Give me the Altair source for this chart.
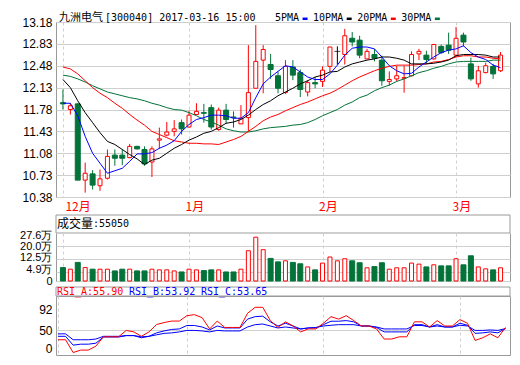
import altair as alt
import pandas as pd

# ---------------- data ----------------
opens = [11.89, 11.78, 11.87, 10.65, 10.75, 10.56, 10.68, 11.05, 11.05, 11.01,
         11.19, 11.14, 10.94, 11.29, 11.37, 11.43, 11.57, 11.50, 11.70, 11.73,
         11.81, 11.46, 11.77, 11.66, 11.55, 11.65, 12.12, 12.57, 12.50, 12.32,
         12.05, 12.46, 12.37, 12.06, 12.21, 12.23, 12.47, 12.71, 12.66, 12.92,
         12.89, 12.59, 12.66, 12.57, 12.23, 12.27, 12.28, 12.32, 12.67, 12.65,
         12.59, 12.79, 12.81, 12.65, 12.97, 12.51, 12.19, 12.37, 12.47, 12.40]
closes = [11.87, 11.84, 10.65, 10.76, 10.57, 10.67, 11.03, 11.00, 11.00, 11.19,
          11.15, 10.91, 11.15, 11.31, 11.42, 11.47, 11.47, 11.69, 11.75, 11.72,
          11.50, 11.77, 11.62, 11.65, 11.64, 12.05, 12.55, 12.74, 12.42, 12.12,
          12.47, 12.33, 12.10, 12.21, 12.19, 12.41, 12.78, 12.71, 12.96, 12.86,
          12.65, 12.71, 12.60, 12.24, 12.26, 12.32, 12.29, 12.66, 12.71, 12.58,
          12.82, 12.69, 12.73, 12.92, 12.86, 12.27, 12.40, 12.48, 12.35, 12.65]
highs = [12.10, 11.88, 11.88, 10.93, 10.81, 10.82, 11.14, 11.14, 11.14, 11.23,
         11.20, 11.19, 11.19, 11.49, 11.58, 11.61, 11.62, 11.76, 11.88, 11.87,
         11.86, 11.81, 11.87, 11.75, 11.85, 12.81, 13.13, 12.81, 12.67, 12.39,
         12.57, 12.57, 12.42, 12.25, 12.30, 12.47, 12.78, 12.79, 13.07, 13.02,
         12.96, 12.75, 12.75, 12.64, 12.39, 12.48, 12.48, 12.71, 12.75, 12.72,
         12.83, 12.82, 13.01, 13.10, 13.01, 12.61, 12.48, 12.53, 12.51, 12.70]
lows = [11.78, 11.70, 10.65, 10.45, 10.50, 10.48, 10.66, 10.88, 10.89, 11.00,
        11.14, 10.88, 10.70, 11.15, 11.35, 11.35, 11.38, 11.49, 11.69, 11.57,
        11.46, 11.44, 11.55, 11.49, 11.55, 11.43, 12.12, 12.04, 12.27, 12.04,
        12.03, 12.25, 11.98, 11.99, 12.12, 12.14, 12.38, 12.50, 12.50, 12.79,
        12.60, 12.59, 12.55, 12.16, 12.16, 12.23, 12.05, 12.31, 12.57, 12.51,
        12.58, 12.67, 12.67, 12.62, 12.79, 12.24, 12.13, 12.36, 12.27, 12.38]

ma5 = [11.88, 11.88, 11.68, 11.35, 11.08, 10.92, 10.76, 10.80, 10.84, 10.95,
       11.07, 11.07, 11.09, 11.16, 11.21, 11.28, 11.43, 11.54, 11.62, 11.65,
       11.69, 11.69, 11.68, 11.64, 11.64, 11.73, 11.97, 12.19, 12.30, 12.39,
       12.48, 12.46, 12.38, 12.30, 12.26, 12.26, 12.35, 12.49, 12.65, 12.76,
       12.78, 12.78, 12.75, 12.62, 12.48, 12.40, 12.35, 12.36, 12.46, 12.54,
       12.62, 12.69, 12.73, 12.75, 12.80, 12.69, 12.62, 12.58, 12.49, 12.45]
ma10 = [12.26, 12.13, 11.92, 11.73, 11.57, 11.41, 11.27, 11.22, 11.14, 11.06,
        10.99, 10.90, 10.97, 11.00, 11.08, 11.16, 11.22, 11.29, 11.34, 11.40,
        11.43, 11.49, 11.56, 11.58, 11.62, 11.69, 11.78, 11.86, 11.92, 12.00,
        12.06, 12.12, 12.19, 12.24, 12.30, 12.33, 12.38, 12.39, 12.46, 12.51,
        12.54, 12.57, 12.59, 12.62, 12.62, 12.60, 12.57, 12.51, 12.51, 12.51,
        12.52, 12.54, 12.57, 12.64, 12.66, 12.66, 12.66, 12.65, 12.62, 12.62]
ma20 = [12.46, 12.43, 12.35, 12.24, 12.13, 12.04, 11.97, 11.88, 11.80, 11.70,
        11.61, 11.53, 11.43, 11.38, 11.33, 11.28, 11.26, 11.24, 11.24, 11.23,
        11.23, 11.22, 11.26, 11.30, 11.35, 11.43, 11.51, 11.60, 11.66, 11.70,
        11.76, 11.81, 11.86, 11.90, 11.95, 12.00, 12.04, 12.10, 12.17, 12.24,
        12.30, 12.35, 12.40, 12.44, 12.47, 12.49, 12.49, 12.49, 12.50, 12.51,
        12.54, 12.55, 12.58, 12.62, 12.64, 12.64, 12.62, 12.62, 12.60, 12.59]
ma30 = [12.33, 12.31, 12.27, 12.22, 12.16, 12.11, 12.06, 12.03, 12.00, 11.97,
        11.95, 11.92, 11.88, 11.85, 11.81, 11.78, 11.77, 11.73, 11.68, 11.62,
        11.58, 11.53, 11.47, 11.44, 11.42, 11.42, 11.44, 11.47, 11.49, 11.50,
        11.51, 11.53, 11.54, 11.57, 11.62, 11.68, 11.73, 11.78, 11.85, 11.90,
        11.97, 12.01, 12.08, 12.13, 12.17, 12.23, 12.27, 12.32, 12.37, 12.40,
        12.44, 12.47, 12.51, 12.54, 12.55, 12.55, 12.55, 12.55, 12.57, 12.57]

volume_wan = [7.7, 6.8, 10.7, 7.7, 6.8, 6.8, 6.8, 5.8, 6.8, 6.8,
              5.8, 5.8, 6.8, 6.4, 6.4, 5.8, 5.2, 6.8, 6.4, 6.0,
              6.4, 6.4, 5.2, 5.2, 6.8, 17.4, 25.2, 18.0, 13.0, 11.0,
              11.6, 10.7, 9.9, 8.1, 6.4, 10.3, 13.8, 11.6, 12.8, 11.6,
              10.5, 7.6, 8.3, 10.5, 6.8, 7.6, 7.6, 10.3, 9.7, 8.1,
              9.3, 8.7, 8.7, 12.8, 9.3, 14.5, 8.1, 7.0, 6.4, 7.6]

rsi_a = [31, 31, 5, 10, 10, 18, 37, 37, 37, 50,
         47, 38, 47, 62, 66, 69, 69, 80, 82, 76,
         53, 69, 56, 56, 56, 85, 97, 97, 70, 56,
         67.5, 59, 47, 53, 53, 64.6, 78, 73, 80, 70,
         59, 59, 53, 32.5, 32.5, 37, 37, 67.5, 67.5, 57,
         70, 59, 59, 72, 64.6, 29.6, 35, 43, 35, 55.9]
rsi_b = [38, 38, 20, 22, 22, 24, 36.6, 36.6, 36.6, 39.5,
         39.5, 35, 38, 45, 49, 52, 53, 60, 60, 57,
         51, 59, 55, 55, 55, 73, 78, 79, 67.5, 59,
         64.6, 59, 53, 55, 55, 61.7, 68.7, 68.7, 70, 67.5,
         59, 59, 56, 47, 47, 47, 47, 61.7, 61.7, 57,
         61.7, 57, 57, 64.6, 60.5, 44, 45, 47, 45, 53.92]
rsi_c = [43, 43, 31, 31, 31, 32.5, 38, 38, 38, 39.5,
         39.5, 37, 38, 41, 44, 45, 47, 50, 50, 49,
         47, 50, 49, 49, 49, 57, 61.7, 63, 59, 55,
         57, 55, 53, 55, 56, 59, 60.5, 61.7, 61.7, 61.7,
         59, 59, 57, 53, 53, 53, 53, 60, 60, 57,
         59, 57, 57, 60.5, 59, 50, 50, 51, 50, 53.65]

month_index = [0, 17, 35, 53]
month_labels = ["12月", "1月", "2月", "3月"]
price_ticks = [10.38, 10.73, 11.08, 11.43, 11.78, 12.13, 12.48, 12.83, 13.18]
volume_ticks = [0, 4.9, 12.5, 20.0, 27.6]
rsi_ticks = [0, 50, 92]

title_name = "九洲电气"
title_rest = "[300040] 2017-03-16 15:00"
ma_names = ["5PMA", "10PMA", "20PMA", "30PMA"]
volume_title = "成交量"
volume_value = ":55050"
rsi_texts = ["RSI_A:55.90", "RSI_B:53.92", "RSI_C:53.65"]

n = len(closes)
for arr in (opens, highs, lows, ma5, ma10, ma20, ma30, volume_wan, rsi_a, rsi_b, rsi_c):
    assert len(arr) == n

df = pd.DataFrame({
    "i": list(range(n)), "open": opens, "close": closes, "high": highs, "low": lows,
    "ma5": ma5, "ma10": ma10, "ma20": ma20, "ma30": ma30, "vol": volume_wan,
    "rsi_a": rsi_a, "rsi_b": rsi_b, "rsi_c": rsi_c,
})
df["dir"] = ["up" if c > o else ("down" if c < o else "flat") for o, c in zip(opens, closes)]
df["vdir"] = ["up" if c >= o else "down" for o, c in zip(opens, closes)]

# ---------------- styles ----------------
RED = "#ff0000"
GREEN = "#03733a"
BLUE = "#0000ff"
BLACK = "#000000"
GRID = "#cfcfcf"
FRAME = "#9a9a9a"
CJK = "Noto Sans CJK SC"
MONO = "DejaVu Sans Mono"
NUMF = "Liberation Sans"
W = 454          # plot width (page content box is 504 px wide)
LEFT = 48        # room for the y labels
TOP = 14         # room above the price panel for the title line
HEAD_Y = -4.5    # title / legend line, relative to the top of the price panel

one = pd.DataFrame({"k": [0]})


def text_at(s, x, y, color=BLACK, font=MONO, size=10):
    return alt.Chart(pd.DataFrame({"t": [s]})).mark_text(
        align="left", baseline="middle", font=font, fontSize=size, color=color
    ).encode(x=alt.value(x), y=alt.value(y), text="t:N")


xscale = alt.Scale(domain=[-0.26, 59.6], nice=False, zero=False)
label_expr = " : ".join(
    f"datum.value == {p} ? '{l}'" for p, l in zip(month_index[:-1], month_labels[:-1])
) + f" : '{month_labels[-1]}'"

x_main_axis = alt.Axis(
    values=month_index, labelExpr=label_expr, grid=True, gridDash=[3, 3], gridColor=GRID,
    ticks=False, tickSize=0, domain=False, labelColor=RED, labelFont=CJK, labelFontSize=12,
    labelAlign="left", labelBaseline="top", labelPadding=4, labelFlush=False,
    labelOffset={"condition": {"test": "datum.value == 0", "value": 2}, "value": -4},
    title=None,
)
x_blank_axis = alt.Axis(
    values=month_index, labels=False, grid=True, gridDash=[3, 3], gridColor=GRID,
    ticks=False, tickSize=0, domain=False, title=None,
)

X_main = alt.X("i:Q", scale=xscale, axis=x_main_axis)
X_blank = alt.X("i:Q", scale=xscale, axis=x_blank_axis)

pscale = alt.Scale(domain=[10.38, 13.18], nice=False, zero=False)
p_axis = alt.Axis(
    values=price_ticks, format=".2f", grid=True, gridColor=GRID, ticks=False, tickSize=0,
    domain=False, labelPadding=4, labelFont=NUMF, labelFontSize=12, labelColor=BLACK,
    labelOverlap=False, title=None,
)


def PY(field):
    return alt.Y(f"{field}:Q", scale=pscale, axis=p_axis)


base = alt.Chart(df)

wicks = base.mark_rule(strokeWidth=1).encode(
    x=X_main, y=PY("high"), y2="low:Q",
    color=alt.Color("dir:N", scale=alt.Scale(domain=["up", "down", "flat"], range=[RED, GREEN, BLACK]), legend=None),
)
body_up = base.transform_filter("datum.dir == 'up'").mark_bar(
    size=4, fill="white", stroke=RED, strokeWidth=1
).encode(x=X_main, y=PY("open"), y2="close:Q")
body_down = base.transform_filter("datum.dir == 'down'").mark_bar(
    size=5, fill=GREEN, stroke=GREEN, strokeWidth=1
).encode(x=X_main, y=PY("open"), y2="close:Q")
body_flat = base.transform_filter("datum.dir == 'flat'").mark_tick(
    orient="horizontal", size=6, thickness=1, color=BLACK
).encode(x=X_main, y=PY("open"))

ma_lines = [
    base.mark_line(strokeWidth=1, color=c).encode(x=X_main, y=PY(f))
    for f, c in [("ma30", GREEN), ("ma20", RED), ("ma10", BLACK), ("ma5", BLUE)]
]

# title + legend (above the plot)
head = [text_at(title_name, 3, HEAD_Y, font=CJK, size=11), text_at(title_rest, 49, HEAD_Y)]
lx = 219
for name, col in zip(ma_names, [BLUE, BLACK, RED, GREEN]):
    w = 6.02 * len(name)
    head.append(text_at(name, lx, HEAD_Y))
    head.append(
        alt.Chart(one).mark_rule(strokeWidth=2.5, color=col).encode(
            x=alt.value(lx + w + 3.5), x2=alt.value(lx + w + 8.5), y=alt.value(HEAD_Y + 1.3)
        )
    )
    lx += w + 14

guard = alt.Chart(one).mark_rule(strokeWidth=1, opacity=0).encode(
    x=alt.value(-LEFT + 0.5), x2=alt.value(-LEFT + 0.5),
    y=alt.value(-TOP + 0.5), y2=alt.value(-TOP + 0.5),
)

main = alt.layer(wicks, body_up, body_down, body_flat, *ma_lines, *head, guard).properties(
    width=W, height=175
)

# volume header
vol_head = alt.layer(
    alt.Chart(one).mark_rect(fill="white", stroke=FRAME, strokeWidth=1).encode(
        x=alt.value(0), x2=alt.value(W), y=alt.value(18), y2=alt.value(36)
    ),
    text_at(volume_title, 1, 26.5, font=CJK, size=12),
    text_at(volume_value, 37, 26.5),
).properties(width=W, height=36, view=alt.ViewBackground(stroke="transparent"))

vscale = alt.Scale(domain=[0, 27.6], nice=False, zero=True)
v_axis = alt.Axis(
    values=volume_ticks,
    labelExpr="datum.value == 0 ? '0' : format(datum.value, '.1f') + '万'",
    grid=True, gridColor=GRID, ticks=False, tickSize=0, domain=False, labelPadding=4,
    labelFont=NUMF, labelFontSize=11, labelColor=BLACK, labelOverlap=False,
    labelOffset={
        "condition": [
            {"test": "datum.value > 27", "value": 2},
            {"test": "datum.value > 12 && datum.value < 13", "value": -2},
            {"test": "datum.value > 4 && datum.value < 5", "value": -3},
        ],
        "value": 0,
    },
    title=None,
)
VY = alt.Y("vol:Q", scale=vscale, axis=v_axis)
vol_up = base.transform_filter("datum.vdir == 'up'").mark_bar(
    size=4, fill="white", stroke=RED, strokeWidth=1
).encode(x=X_blank, y=VY, y2=alt.datum(0))
vol_down = base.transform_filter("datum.vdir == 'down'").mark_bar(
    size=5, fill=GREEN, stroke=GREEN, strokeWidth=1
).encode(x=X_blank, y=VY, y2=alt.datum(0))
vol = alt.layer(vol_up, vol_down).properties(width=W, height=48)

# RSI header
rsi_head = alt.layer(
    alt.Chart(one).mark_rect(fill="white", stroke=FRAME, strokeWidth=1).encode(
        x=alt.value(0), x2=alt.value(W), y=alt.value(6), y2=alt.value(15)
    ),
    text_at(rsi_texts[0], 1, 10.5, color=RED),
    text_at(rsi_texts[1], 73, 10.5, color=BLUE),
    text_at(rsi_texts[2], 145, 10.5, color=BLUE),
).properties(width=W, height=15, view=alt.ViewBackground(stroke="transparent"))

rscale = alt.Scale(domain=[0, 120], nice=False, zero=False)
r_axis = alt.Axis(
    values=rsi_ticks, grid=True, gridColor=GRID,
    gridOpacity={"condition": {"test": "datum.value == 50", "value": 1}, "value": 0},
    ticks=False, tickSize=0, domain=False, labelPadding=4, labelFont=NUMF, labelFontSize=12,
    labelColor=BLACK, labelOverlap=False,
    labelBaseline={"condition": {"test": "datum.value == 0", "value": "bottom"}, "value": "middle"},
    title=None,
)
rsi = alt.layer(*[
    base.mark_line(strokeWidth=1, color=c).encode(
        x=X_blank, y=alt.Y(f"{f}:Q", scale=rscale, axis=r_axis)
    )
    for f, c in [("rsi_c", BLUE), ("rsi_b", BLUE), ("rsi_a", RED)]
]).properties(width=W, height=59)

chart = (
    alt.vconcat(main, vol_head, vol, rsi_head, rsi, spacing=0, bounds="flush")
    .resolve_scale(x="independent", y="independent")
    .properties(padding=0, background="white")
    .configure_view(stroke=FRAME, strokeWidth=1)
)

chart.save("out.html", embed_options={"renderer": "svg", "actions": False})
